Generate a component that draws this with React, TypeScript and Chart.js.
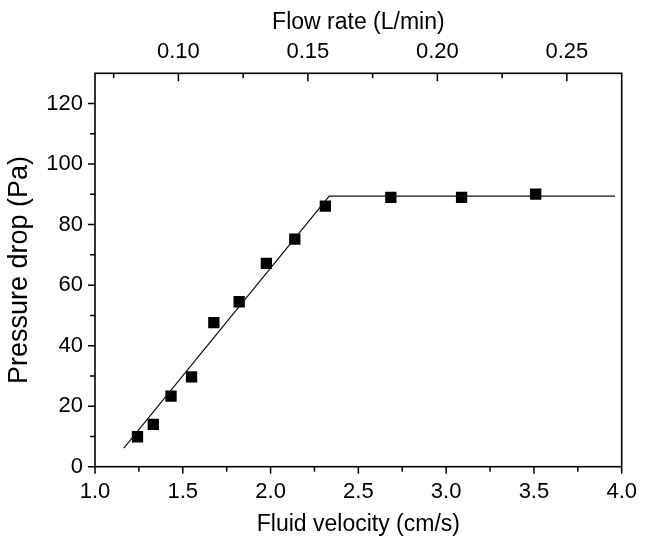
import React, { useEffect, useRef } from "react";
import { Chart, registerables } from "chart.js";

Chart.register(...registerables);

// Measured data (Fluid velocity cm/s vs Pressure drop Pa)
const velocity = [1.242, 1.332, 1.433, 1.55, 1.677, 1.821, 1.976, 2.138, 2.312, 2.685, 3.088, 3.51];
const pressure = [9.9, 14.0, 23.3, 29.7, 47.6, 54.5, 67.2, 75.2, 86.1, 89.0, 89.0, 90.1];

// Fitted piecewise line
const fitX = [1.164, 2.334, 3.962];
const fitY = [6.1, 89.4, 89.4];

// Axes
const xMajorTicks = [1.0, 1.5, 2.0, 2.5, 3.0, 3.5, 4.0];
const xMinorTicks = [1.25, 1.75, 2.25, 2.75, 3.25, 3.75];
const yMajorTicks = [0, 20, 40, 60, 80, 100, 120];
const yMinorTicks = [10, 30, 50, 70, 90, 110];
const flowMajorTicks = [0.1, 0.15, 0.2, 0.25];
const flowMinorTicks = [0.075, 0.125, 0.175, 0.225];
const velocityPerFlow = 14.75; // cm/s per L/min

const xMin = 1.0;
const xMax = 4.0;
const yMin = 0;
const yMax = 130;

const FONT = "'Liberation Sans', Arial, Helvetica, sans-serif";

const tickPlugin = {
  id: "customTicks",
  afterDraw(chart: any) {
    const { ctx, chartArea } = chart;
    const { left, right, top, bottom } = chartArea;
    const sx = chart.scales.x;
    const sy = chart.scales.y;
    const sx2 = chart.scales.x2;
    ctx.save();
    ctx.strokeStyle = "#000";
    ctx.lineWidth = 1.6;
    ctx.strokeRect(left, top, right - left, bottom - top);
    ctx.lineWidth = 1.5;
    ctx.beginPath();
    xMajorTicks.forEach((v) => {
      const p = sx.getPixelForValue(v);
      ctx.moveTo(p, bottom);
      ctx.lineTo(p, bottom + 7);
    });
    xMinorTicks.forEach((v) => {
      const p = sx.getPixelForValue(v);
      ctx.moveTo(p, bottom);
      ctx.lineTo(p, bottom + 5);
    });
    yMajorTicks.forEach((v) => {
      const p = sy.getPixelForValue(v);
      ctx.moveTo(left, p);
      ctx.lineTo(left - 7, p);
    });
    yMinorTicks.forEach((v) => {
      const p = sy.getPixelForValue(v);
      ctx.moveTo(left, p);
      ctx.lineTo(left - 5, p);
    });
    flowMajorTicks.forEach((v) => {
      const p = sx2.getPixelForValue(v);
      ctx.moveTo(p, top);
      ctx.lineTo(p, top + 8);
    });
    flowMinorTicks.forEach((v) => {
      const p = sx2.getPixelForValue(v);
      ctx.moveTo(p, top);
      ctx.lineTo(p, top + 5);
    });
    ctx.stroke();
    ctx.restore();
  },
};

export default function App() {
  const canvasRef = useRef<HTMLCanvasElement | null>(null);

  useEffect(() => {
    if (!canvasRef.current) return;
    Chart.defaults.font.family = FONT;
    Chart.defaults.color = "#000";
    const chart = new Chart(canvasRef.current, {
      type: "scatter",
      data: {
        datasets: [
          {
            type: "line",
            label: "fit",
            data: fitX.map((x, i) => ({ x, y: fitY[i] })),
            borderColor: "#111",
            borderWidth: 1.2,
            pointRadius: 0,
            fill: false,
            tension: 0,
            xAxisID: "x",
            yAxisID: "y",
          } as any,
          {
            type: "scatter",
            label: "data",
            data: velocity.map((x, i) => ({ x, y: pressure[i] })),
            pointStyle: "rect",
            pointRadius: 8,
            backgroundColor: "#000",
            borderColor: "#000",
            borderWidth: 0,
            xAxisID: "x",
            yAxisID: "y",
          },
        ],
      },
      options: {
        animation: false,
        responsive: false,
        layout: { padding: { left: 0, right: 18, top: 0, bottom: 0 } },
        plugins: { legend: { display: false }, tooltip: { enabled: false } },
        scales: {
          x: {
            type: "linear",
            position: "bottom",
            min: xMin,
            max: xMax,
            grid: { display: false, drawTicks: false },
            border: { display: false },
            afterBuildTicks: (s: any) => {
              s.ticks = xMajorTicks.map((v) => ({ value: v }));
            },
            afterFit: (s: any) => {
              s.height = 73.3;
            },
            ticks: {
              padding: 12,
              font: { size: 22 },
              color: "#000",
              maxRotation: 0,
              callback: (v: any) => Number(v).toFixed(1),
            },
            title: {
              display: true,
              text: "Fluid velocity (cm/s)",
              font: { size: 23 },
              color: "#000",
              padding: { top: 0, bottom: 1.2 },
            },
          },
          x2: {
            type: "linear",
            position: "top",
            min: xMin / velocityPerFlow,
            max: xMax / velocityPerFlow,
            grid: { display: false, drawTicks: false },
            border: { display: false },
            afterBuildTicks: (s: any) => {
              s.ticks = flowMajorTicks.map((v) => ({ value: v }));
            },
            afterFit: (s: any) => {
              s.height = 73.3;
            },
            ticks: {
              padding: 8.4,
              font: { size: 22 },
              color: "#000",
              maxRotation: 0,
              callback: (v: any) => Number(v).toFixed(2),
            },
            title: {
              display: true,
              text: "Flow rate (L/min)",
              font: { size: 23 },
              color: "#000",
              padding: { top: 8.7, bottom: 0 },
            },
          },
          y: {
            type: "linear",
            position: "left",
            min: yMin,
            max: yMax,
            grid: { display: false, drawTicks: false },
            border: { display: false },
            afterBuildTicks: (s: any) => {
              s.ticks = yMajorTicks.map((v) => ({ value: v }));
            },
            afterFit: (s: any) => {
              s.width = 95;
            },
            ticks: {
              padding: 12,
              font: { size: 22 },
              color: "#000",
              callback: (v: any) => String(v),
            },
            title: {
              display: true,
              text: "Pressure drop (Pa)",
              font: { size: 27 },
              color: "#000",
              padding: { top: 3, bottom: 0 },
            },
          },
        },
      },
      plugins: [tickPlugin],
    });
    return () => chart.destroy();
  }, []);

  return (
    <div style={{ position: "fixed", left: 0, top: 0, width: 649, height: 540, background: "#fff" }}>
      <canvas ref={canvasRef} width={649} height={540} style={{ width: 649, height: 540, display: "block" }} />
    </div>
  );
}
